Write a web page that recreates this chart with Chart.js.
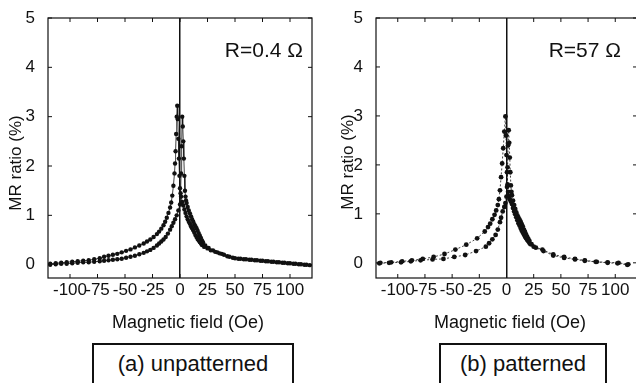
<!DOCTYPE html>
<html>
<head>
<meta charset="utf-8">
<script src="https://cdn.jsdelivr.net/npm/chart.js@4.4.1/dist/chart.umd.min.js"></script>
<style>
  html, body { margin: 0; padding: 0; background: #fff; overflow: hidden; width: 636px; height: 383px; }
  canvas { position: absolute; top: 0; }
  #chartA { left: 0; }
  #chartB { left: 318px; }
  .caja {
    position: absolute; top: 343px; height: 60px;
    border: 2px solid #111; box-sizing: border-box;
    font-family: "Liberation Sans", Arial, sans-serif; font-size: 22px; color: #111;
    text-align: center; line-height: 38px;
  }
  #cajaA { left: 92px; width: 202px; }
  #cajaB { left: 439px; width: 168px; }
</style>
</head>
<body>
<canvas id="chartA" width="318" height="340"></canvas>
<canvas id="chartB" width="330" height="340"></canvas>
<div class="caja" id="cajaA">(a) unpatterned</div>
<div class="caja" id="cajaB">(b) patterned</div>

<script>
// 1. DATA
const xTitle = 'Magnetic field (Oe)';
const yTitle = 'MR ratio (%)';

// (a) unpatterned, R = 0.4 ohm
const unpatLabel = 'R=0.4 \u03A9';
const unpatFieldA = [-118,-113,-108,-103,-98,-93,-88,-83,-78,-73,-69,-65,-61,-57,-53,-49,-45,-41,-37,-33,-30,-27,-24,-21,-19,-17,-15,-13.5,-12,-10.5,-9,-8,-7,-6,-5,-4.5,-4,-3.5,-3,-2.5,-2,-1.5,-1,-0.5,0,1,2,3,4,5,6,7,8,9,10,11,12,13,14,15,16,17,18,19,20,22,25,28,32,36,40,45,50,55,60,65,70,75,80,85,90,95,100,105,110,115];
const unpatMrA    = [0.02,0.03,0.04,0.05,0.06,0.07,0.08,0.09,0.11,0.13,0.16,0.18,0.20,0.22,0.25,0.28,0.31,0.35,0.39,0.43,0.47,0.51,0.56,0.62,0.67,0.73,0.80,0.87,0.95,1.05,1.16,1.26,1.40,1.60,1.85,2.05,2.30,2.65,3.00,3.22,2.95,2.55,2.15,1.80,1.55,1.38,1.27,1.20,1.12,1.05,0.98,0.92,0.87,0.83,0.78,0.74,0.70,0.65,0.60,0.56,0.52,0.49,0.46,0.43,0.40,0.36,0.33,0.29,0.26,0.23,0.20,0.16,0.13,0.12,0.11,0.10,0.09,0.08,0.07,0.06,0.05,0.04,0.03,0.02,0.01,0.00];
const unpatFieldB = [-118,-113,-108,-103,-98,-93,-88,-83,-78,-73,-69,-65,-61,-57,-53,-49,-45,-41,-37,-33,-30,-27,-24,-21,-19,-17,-15,-13,-11,-9,-7.5,-6,-4.5,-3,-1.5,0,0.5,1,1.5,2,2.5,3,3.5,4,4.5,5,5.5,6,7,8,9,10,11,12,13,14,15,16,17,18,19,20,21,23,26,30,34,38,43,48,53,58,63,68,73,78,83,88,93,98,103,108,113,118];
const unpatMrB    = [0.00,0.01,0.02,0.02,0.03,0.04,0.05,0.05,0.06,0.07,0.08,0.09,0.10,0.11,0.12,0.14,0.16,0.18,0.21,0.24,0.27,0.30,0.34,0.39,0.43,0.47,0.51,0.56,0.63,0.71,0.78,0.85,0.92,1.00,1.10,1.22,1.45,1.85,2.40,3.00,2.80,2.50,2.15,1.80,1.50,1.38,1.30,1.25,1.17,1.10,1.04,0.98,0.92,0.87,0.82,0.78,0.74,0.69,0.64,0.59,0.54,0.49,0.45,0.39,0.34,0.29,0.25,0.22,0.17,0.14,0.12,0.11,0.10,0.09,0.08,0.07,0.06,0.05,0.04,0.03,0.02,0.01,0.00,-0.01];

// (b) patterned, R = 57 ohm
const patLabel = 'R=57 \u03A9';
const patFieldA = [-116,-106,-96,-87,-77,-67,-57,-47,-37,-27,-20,-17,-15,-13,-11,-9.5,-8,-7,-6,-5,-4,-3,-2,-1,-0.5,0,0.5,1,1.5,2,3,4,5,6,7,8,9,10,11,12,13,14,15,16,17,18,19,20,21,22,25,33,43,53,63,72,83,93,103,112];
const patMrA    = [0.00,0.01,0.03,0.05,0.08,0.12,0.18,0.27,0.37,0.50,0.64,0.73,0.80,0.89,0.98,1.07,1.18,1.30,1.48,1.75,2.03,2.34,2.68,2.99,2.60,2.20,1.85,1.60,1.45,1.36,1.30,1.25,1.20,1.12,1.05,0.99,0.93,0.87,0.81,0.76,0.71,0.66,0.62,0.58,0.54,0.50,0.47,0.44,0.41,0.38,0.33,0.27,0.17,0.12,0.08,0.05,0.02,0.01,0.00,-0.03];
const patFieldB = [-117,-108,-97,-88,-79,-68,-58,-48,-38,-28,-19,-16,-13,-10,-8,-6,-5,-3.5,-2,-1,0,0.5,1,1.5,2,2.5,3,3.5,4,4.5,5,6,7,8,9,10,11,12,13,14,15,16,17,18,19,20,21,23,27,34,43,53,63,72,82,93,102,111];
const patMrB    = [-0.01,0.00,0.01,0.03,0.05,0.07,0.08,0.12,0.16,0.24,0.33,0.40,0.48,0.57,0.68,0.83,0.92,1.05,1.14,1.22,1.35,1.55,1.95,2.40,2.71,2.45,2.15,1.85,1.58,1.45,1.38,1.27,1.18,1.10,1.03,0.97,0.92,0.88,0.84,0.79,0.74,0.68,0.63,0.58,0.53,0.49,0.45,0.38,0.31,0.24,0.15,0.10,0.07,0.04,0.02,0.00,-0.01,-0.04];

// 2. HELPERS
const FONT = '"Liberation Sans", Arial, sans-serif';
const INK = '#111';

function pares(campo, mr) {
    return campo.map((h, i) => ({ x: h, y: mr[i] }));
}

// frame, small inward ticks, axis titles and the R label
const marco = {
    id: 'marco',
    afterDraw(chart, args, o) {
        const { ctx, chartArea: a } = chart;
        const sx = chart.scales.x, sy = chart.scales.y;
        ctx.save();
        ctx.strokeStyle = INK;
        ctx.lineWidth = 1.2;
        ctx.strokeRect(a.left, a.top, a.right - a.left, a.bottom - a.top);
        ctx.lineWidth = 1;
        ctx.beginPath();
        sx.ticks.forEach(t => {
            const px = sx.getPixelForValue(t.value);
            ctx.moveTo(px, a.bottom); ctx.lineTo(px, a.bottom - 4);
            ctx.moveTo(px, a.top); ctx.lineTo(px, a.top + 4);
        });
        sy.ticks.forEach(t => {
            const py = sy.getPixelForValue(t.value);
            ctx.moveTo(a.left, py); ctx.lineTo(a.left + 4, py);
            ctx.moveTo(a.right, py); ctx.lineTo(a.right - 4, py);
        });
        ctx.stroke();

        ctx.fillStyle = INK;
        ctx.textAlign = 'center';
        ctx.textBaseline = 'middle';
        ctx.font = '18px ' + FONT;
        ctx.fillText(xTitle, o.xTitleX, o.xTitleY);

        ctx.save();
        ctx.translate(o.yTitleX, o.yTitleY);
        ctx.rotate(-Math.PI / 2);
        ctx.font = '17px ' + FONT;
        ctx.fillText(yTitle, 0, 0);
        ctx.restore();

        ctx.textAlign = 'right';
        ctx.textBaseline = 'alphabetic';
        ctx.font = '21px ' + FONT;
        ctx.fillText(o.label, o.labelX, o.labelY);
        ctx.restore();
    }
};

function crearGrafico(id, datosA, datosB, cfg) {
    const ctx = document.getElementById(id).getContext('2d');
    return new Chart(ctx, {
        type: 'scatter',
        data: {
            datasets: [{
                data: datosA,
                showLine: true,
                borderColor: INK, borderWidth: 0.8, borderDash: cfg.dash,
                pointRadius: cfg.radius, pointBackgroundColor: INK, pointBorderWidth: 0
            }, {
                data: datosB,
                showLine: true,
                borderColor: INK, borderWidth: 0.8, borderDash: cfg.dash,
                pointRadius: cfg.radius, pointBackgroundColor: INK, pointBorderWidth: 0
            }]
        },
        options: {
            responsive: false,
            animation: false,
            devicePixelRatio: 1,
            layout: { padding: { top: 18, right: cfg.padRight, left: 0, bottom: 0 } },
            plugins: {
                legend: { display: false },
                tooltip: { enabled: false },
                marco: cfg.marco
            },
            scales: {
                x: {
                    type: 'linear', min: -120, max: 120,
                    afterFit: s => { s.height = 62; },
                    ticks: {
                        stepSize: 25, includeBounds: false, autoSkip: false, maxRotation: 0,
                        padding: 2, color: INK, font: { family: FONT, size: 17 }
                    },
                    grid: {
                        drawTicks: false, lineWidth: 1.5,
                        color: c => (c.tick && c.tick.value === 0) ? INK : 'rgba(0,0,0,0)'
                    },
                    border: { display: false }
                },
                y: {
                    min: cfg.yMin, max: 5,
                    afterFit: s => { s.width = cfg.yWidth; },
                    ticks: {
                        stepSize: 1, includeBounds: false,
                        padding: 5, color: INK, font: { family: FONT, size: 17 }
                    },
                    grid: { display: false },
                    border: { display: false }
                }
            }
        },
        plugins: [marco]
    });
}

// 3. CHARTS
crearGrafico('chartA', pares(unpatFieldA, unpatMrA), pares(unpatFieldB, unpatMrB), {
    dash: [], radius: 2.2, padRight: 6, yWidth: 48, yMin: -0.27,
    marco: { label: unpatLabel, labelX: 303, labelY: 57, xTitleX: 188, xTitleY: 323, yTitleX: 16, yTitleY: 163 }
});

crearGrafico('chartB', pares(patFieldA, patMrA), pares(patFieldB, patMrB), {
    dash: [2, 2], radius: 2.4, padRight: 11, yWidth: 58, yMin: -0.31,
    marco: { label: patLabel, labelX: 303, labelY: 57, xTitleX: 192, xTitleY: 323, yTitleX: 30, yTitleY: 162 }
});
</script>
</body>
</html>
